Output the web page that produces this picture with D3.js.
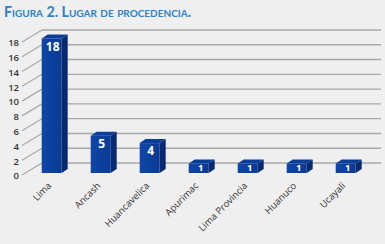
<!DOCTYPE html>
<html><head><meta charset="utf-8">
<script src="https://cdn.jsdelivr.net/npm/d3@7"></script>
<style>
html,body{margin:0;padding:0;background:#efefef;}
svg{display:block;}
</style></head>
<body>
<svg id="c" width="385" height="244"></svg>
<script>
const categories = ["Lima","Ancash","Huancavelica","Apurimac","Lima Provincia","Huanuco","Ucayali"];
const values = [18,5,4,1,1,1,1];
const yTicks = [0,2,4,6,8,10,12,14,16,18];
const title = "Figura 2. Lugar de procedencia.";

const svg = d3.select("#c");
svg.append("rect").attr("width",385).attr("height",244).attr("fill","#efefef");

// title
svg.append("text").attr("x",4).attr("y",17)
  .attr("font-family","Lato, 'Open Sans', sans-serif").attr("font-weight","bold")
  .attr("font-size",14.2).style("font-variant","small-caps")
  .attr("fill","#2b82c4").text(title);

const yBack = d3.scaleLinear().domain([0,18]).range([163,30]);
const yFront = d3.scaleLinear().domain([0,18]).range([173,38.5]);
const x = d3.scaleBand().domain(categories).range([27,370.4]).paddingInner(0.592).paddingOuter(0.3);

const DX = 20, DY = 12; // wall depth
const bdx = 6, bdy = 4; // bar depth

const grid = svg.append("g");
yTicks.forEach(t => {
  const yb = yBack(t);
  grid.append("line").attr("x1",42).attr("x2",381).attr("y1",yb).attr("y2",yb)
    .attr("stroke","#a9a9a9").attr("stroke-width",1.4);
  grid.append("line").attr("x1",42-DX).attr("y1",yb+DY).attr("x2",42).attr("y2",yb)
    .attr("stroke","#a9a9a9").attr("stroke-width",1.2);
  grid.append("text").attr("x",19).attr("y",yb+DY+1).attr("dy","0.35em")
    .attr("text-anchor","end").attr("font-family","'Open Sans', sans-serif")
    .attr("font-weight",600).attr("font-size",9.5).attr("fill","#333").text(t);
});

const defs = svg.append("defs");
const g1 = defs.append("linearGradient").attr("id","fg").attr("x1","0").attr("x2","1").attr("y1","0").attr("y2","0");
g1.append("stop").attr("offset","0").attr("stop-color","#0f46a6");
g1.append("stop").attr("offset","1").attr("stop-color","#0a3a93");

const bars = svg.append("g");
categories.forEach((c,i) => {
  const v = values[i];
  const x0 = x(c), w = x.bandwidth();
  const yt = yFront(v) - (v < 2 ? 2 : 0), yb = yFront(0);
  // side
  bars.append("path").attr("d",`M${x0+w},${yt}L${x0+w+bdx},${yt-bdy}L${x0+w+bdx},${yb-bdy}L${x0+w},${yb}Z`)
    .attr("fill","#062a6f");
  // top
  bars.append("path").attr("d",`M${x0},${yt}L${x0+bdx},${yt-bdy}L${x0+w+bdx},${yt-bdy}L${x0+w},${yt}Z`)
    .attr("fill","#0b3d98");
  // front
  bars.append("rect").attr("x",x0).attr("y",yt).attr("width",w).attr("height",yb-yt)
    .attr("fill","url(#fg)");
  // value label
  const ly = v > 2 ? yt + 8 : (yt+yb)/2 - 1;
  bars.append("text").attr("x",x0+w/2+(v>2?1:2)).attr("y",ly).attr("dy","0.36em")
    .attr("text-anchor","middle").attr("font-family","'Open Sans', sans-serif")
    .attr("font-weight","bold").attr("font-size",v>2?12:9.5).attr("fill","#fff").text(v);
  // category label
  const cx = x0 + w/2 - 2, cy = 184;
  svg.append("text").attr("transform",`translate(${cx},${cy}) rotate(-45)`)
    .attr("text-anchor","end").attr("dy","0.35em")
    .attr("font-family","'Open Sans', sans-serif").attr("font-size",9.5)
    .attr("fill","#333").text(c);
});
</script>
</body></html>
